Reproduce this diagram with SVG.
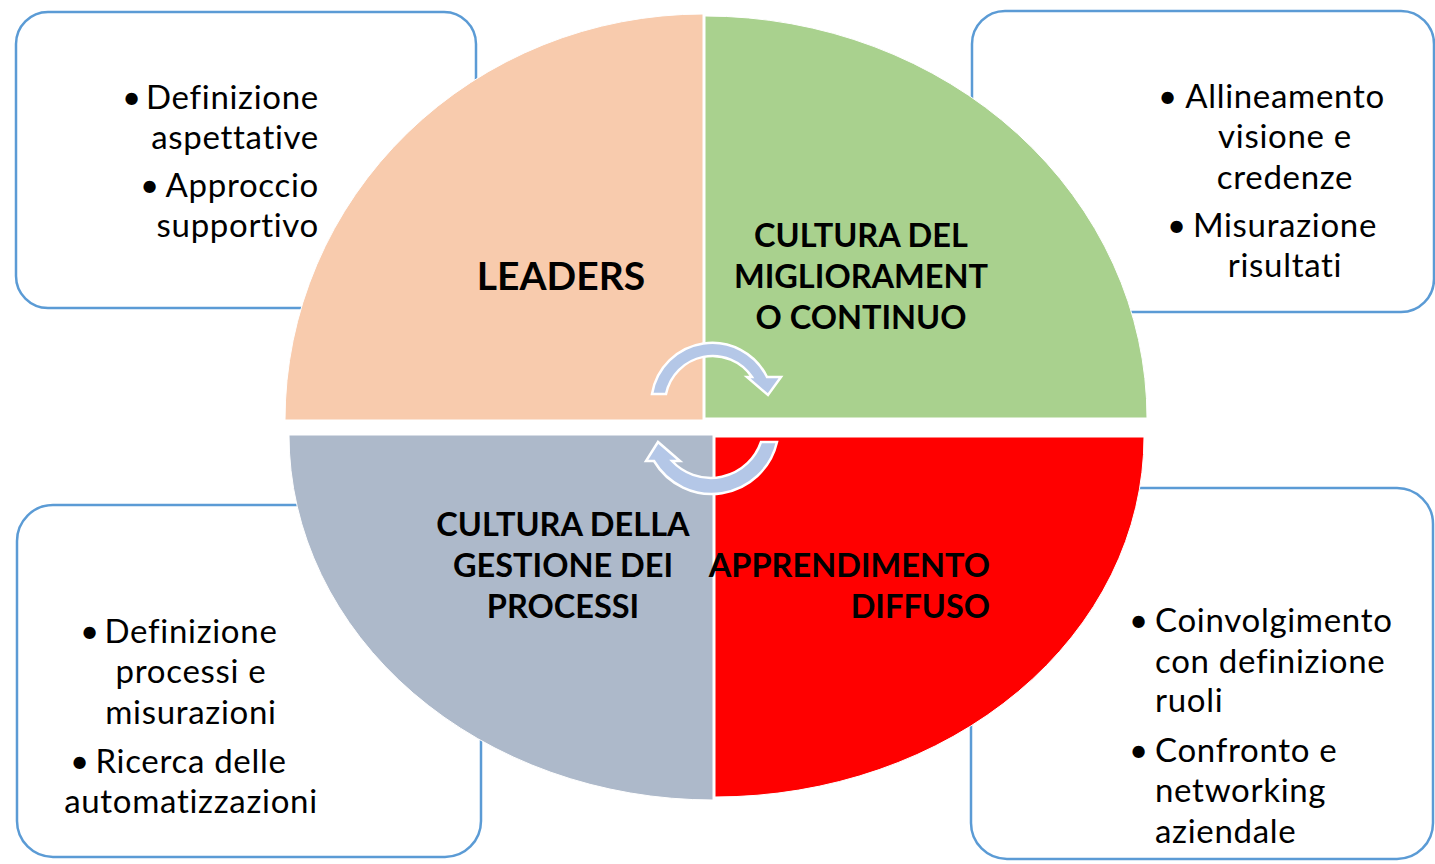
<svg xmlns="http://www.w3.org/2000/svg" width="1435" height="864" viewBox="0 0 1435 864">
<style>
.box{fill:#FFFFFF;stroke:#5B9BD5;stroke-width:2.5}
.q{stroke:#FFFFFF;stroke-width:1}
.t{font-family:Lato,"Liberation Sans",sans-serif;font-size:33px;letter-spacing:0.7px;fill:#000000}
.b{font-family:Lato,"Liberation Sans",sans-serif;font-size:32.5px;font-weight:bold;fill:#000000}
.arr{fill:#B4C7E7;stroke:#FFFFFF;stroke-width:2.5;stroke-linejoin:miter}
</style>
<rect width="1435" height="864" fill="#FFFFFF"/>
<g id="box-tl"><rect class="box" x="16" y="12" width="460" height="296" rx="32" ry="32"/></g>
<g id="box-tr"><rect class="box" x="972" y="11" width="462" height="301" rx="33" ry="33"/></g>
<g id="box-bl"><rect class="box" x="17" y="505" width="464" height="352" rx="36" ry="36"/></g>
<g id="box-br"><rect class="box" x="971" y="488" width="462" height="371" rx="36" ry="36"/></g>
<g id="q-leaders"><path class="q" fill="#F8CBAD" d="M703,420 L285,420 A418,406 0 0 1 703,14 Z"/></g>
<g id="q-miglioramento"><path class="q" fill="#A9D18E" d="M705,418 L705,16 A442,402 0 0 1 1147,418 Z"/></g>
<g id="q-processi"><path class="q" fill="#ADB9CA" d="M713,435 L713,800 A424,365 0 0 1 289,435 Z"/></g>
<g id="q-apprendimento"><path class="q" fill="#FF0000" d="M715,437 L1144,437 A429,360 0 0 1 715,797 Z"/></g>
<g id="connectors">
<path class="arr" d="M652,394 A61,61 0 0 1 767,377 L781,377 L768,395 L747,377 L752,377 A47.5,47.5 0 0 0 666,394 Z"/>
<path class="arr" d="M777,442 A67,67 0 0 1 654,461 L646,461 L658,442 L680,461 L672,461 A53,53 0 0 0 761,442 Z"/>
</g>
<g id="label-leaders"><text class="b" style="font-size:39px" x="561" y="290" text-anchor="middle">LEADERS</text></g>
<g id="label-miglioramento">
<text class="b" x="861" y="247" text-anchor="middle">CULTURA DEL</text>
<text class="b" x="861" y="288" text-anchor="middle">MIGLIORAMENT</text>
<text class="b" x="861" y="329" text-anchor="middle">O CONTINUO</text>
</g>
<g id="label-processi">
<text class="b" x="563" y="536" text-anchor="middle">CULTURA DELLA</text>
<text class="b" x="563" y="577" text-anchor="middle">GESTIONE DEI</text>
<text class="b" x="563" y="618" text-anchor="middle">PROCESSI</text>
</g>
<g id="label-apprendimento">
<text class="b" x="990" y="577" text-anchor="end">APPRENDIMENTO</text>
<text class="b" x="990" y="618" text-anchor="end">DIFFUSO</text>
</g>
<g id="text-tl">
<text class="t" x="132" y="109" text-anchor="middle">•</text>
<text class="t" x="319" y="109" text-anchor="end">Definizione</text>
<text class="t" x="319" y="149" text-anchor="end">aspettative</text>
<text class="t" x="150" y="197" text-anchor="middle">•</text>
<text class="t" x="319" y="197" text-anchor="end">Approccio</text>
<text class="t" x="319" y="237" text-anchor="end">supportivo</text>
</g>
<g id="text-tr">
<text class="t" x="1168" y="108" text-anchor="middle">•</text>
<text class="t" x="1285" y="108" text-anchor="middle">Allineamento</text>
<text class="t" x="1285" y="148" text-anchor="middle">visione e</text>
<text class="t" x="1285" y="189" text-anchor="middle">credenze</text>
<text class="t" x="1177" y="237" text-anchor="middle">•</text>
<text class="t" x="1285" y="237" text-anchor="middle">Misurazione</text>
<text class="t" x="1285" y="277" text-anchor="middle">risultati</text>
</g>
<g id="text-bl">
<text class="t" x="90" y="643" text-anchor="middle">•</text>
<text class="t" x="191" y="643" text-anchor="middle">Definizione</text>
<text class="t" x="191" y="683" text-anchor="middle">processi e</text>
<text class="t" x="191" y="724" text-anchor="middle">misurazioni</text>
<text class="t" x="80" y="773" text-anchor="middle">•</text>
<text class="t" x="191" y="773" text-anchor="middle">Ricerca delle</text>
<text class="t" x="191" y="813" text-anchor="middle">automatizzazioni</text>
</g>
<g id="text-br">
<text class="t" x="1139" y="632" text-anchor="middle">•</text>
<text class="t" x="1155" y="632">Coinvolgimento</text>
<text class="t" x="1155" y="673">con definizione</text>
<text class="t" x="1155" y="712">ruoli</text>
<text class="t" x="1139" y="762" text-anchor="middle">•</text>
<text class="t" x="1155" y="762">Confronto e</text>
<text class="t" x="1155" y="802">networking</text>
<text class="t" x="1155" y="843">aziendale</text>
</g>
</svg>
